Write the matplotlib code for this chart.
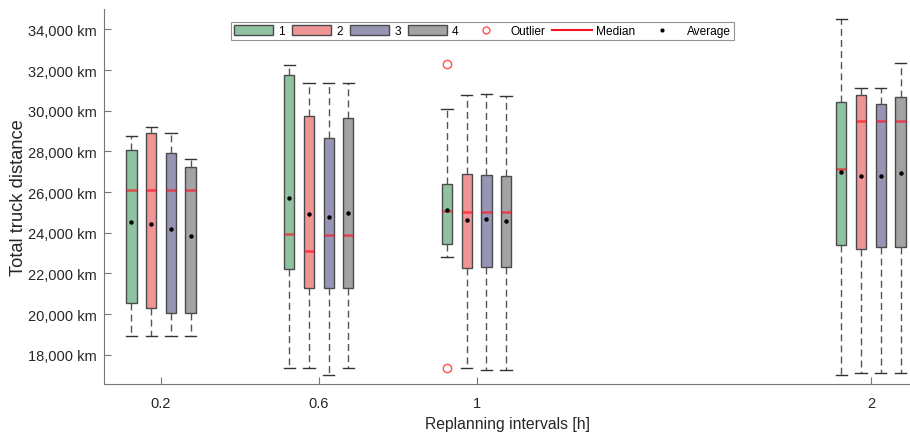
import numpy as np
import matplotlib
matplotlib.use('Agg')
import matplotlib.pyplot as plt
from matplotlib.patches import Patch
from matplotlib.lines import Line2D
from matplotlib.ticker import FuncFormatter

plt.rcParams['font.family'] = ['Liberation Sans', 'DejaVu Sans']

#-------------------------------------------------------------------------
# replanning intervals [h] and series (1..4) per interval
intervals = [0.2, 0.6, 1, 2]
series = ['1', '2', '3', '4']

# rows: interval, cols: series
whis_hi = [[28760, 29220, 28910, 27620],
           [32270, 31380, 31380, 31380],
           [30060, 30760, 30820, 30730],
           [34490, 31100, 31100, 32330]]
q3 = [[28090, 28880, 27910, 27220],
      [31740, 29730, 28660, 29630],
      [26390, 26910, 26830, 26770],
      [30420, 30750, 30350, 30660]]
median = [[26110, 26110, 26110, 26110],
          [23940, 23090, 23890, 23890],
          [25050, 25030, 25030, 25030],
          [27110, 29500, 29500, 29500]]
average = [[24540, 24440, 24200, 23820],
           [25700, 24900, 24780, 24970],
           [25130, 24620, 24690, 24560],
           [26960, 26780, 26770, 26930]]
q1 = [[20530, 20300, 20040, 20040],
      [22220, 21270, 21270, 21270],
      [23440, 22270, 22310, 22310],
      [23390, 23210, 23280, 23280]]
whis_lo = [[18940, 18940, 18940, 18940],
           [17340, 17340, 16980, 17340],
           [22820, 17350, 17260, 17260],
           [16980, 17080, 17080, 17080]]
outliers = [[[], [], [], []],
            [[], [], [], []],
            [[32280, 17350], [], [], []],
            [[], [], [], []]]

colors = ['#8fc2a0', '#ef9595', '#9696b4', '#a3a3a3']

#-------------------------------------------------------------------------
offsets = [-0.075, -0.025, 0.025, 0.075]
bwidth = 0.026

fig = plt.figure(figsize=(9.1, 4.35), dpi=100)
ax = fig.add_axes([0.1143, 0.115, 0.8857, 0.862])

for i, xg in enumerate(intervals):
  for j in range(len(series)):
    st = [dict(med=median[i][j], q1=q1[i][j], q3=q3[i][j],
               whislo=whis_lo[i][j], whishi=whis_hi[i][j],
               mean=average[i][j], fliers=outliers[i][j])]
    ax.bxp(st, positions=[xg + offsets[j]], widths=bwidth,
           patch_artist=True, showmeans=True, manage_ticks=False,
           boxprops=dict(facecolor=colors[j], edgecolor='#4a4a4a', linewidth=1.0),
           medianprops=dict(color='#ff1020', linewidth=1.8, alpha=0.65),
           whiskerprops=dict(color='#555555', linestyle=(0, (5, 3)), linewidth=1.0),
           capprops=dict(color='#333333', linewidth=1.0),
           capwidths=bwidth * 1.1,
           meanprops=dict(marker='o', markersize=2.2, markerfacecolor='black',
                          markeredgecolor='black'),
           flierprops=dict(marker='o', markersize=6, markerfacecolor='none',
                           markeredgecolor='#ff5050', markeredgewidth=1.0))

ax.set_xlim(0.0555, 2.099)
ax.set_ylim(16560, 35000)
ax.set_xticks(intervals)
ax.set_xticklabels(['0.2', '0.6', '1', '2'])
ax.set_yticks(np.arange(18000, 34001, 2000))
ax.yaxis.set_major_formatter(FuncFormatter(lambda v, p: '{:,.0f} km'.format(v)))

for s in ['top', 'right']:
  ax.spines[s].set_visible(False)
for s in ['left', 'bottom']:
  ax.spines[s].set_color('#777777')
ax.tick_params(direction='in', length=5, color='#777777', labelsize=10.5,
               labelcolor='#262626')
ax.tick_params(axis='x', pad=9)
ax.tick_params(axis='y', pad=5)

ax.set_xlabel('Replanning intervals [h]', fontsize=11.3, color='#262626', labelpad=4)
ax.set_ylabel('Total truck distance', fontsize=13.2, color='#262626', labelpad=1)

handles = [Patch(facecolor=c, edgecolor='#4a4a4a', linewidth=1.0) for c in colors]
handles += [Line2D([], [], marker='o', linestyle='none', markersize=5,
                   markerfacecolor='none', markeredgecolor='#ff5050'),
            Line2D([], [], color='#ff1020', linewidth=1.5),
            Line2D([], [], marker='o', linestyle='none', markersize=2,
                   color='black')]
labels = series + ['Outlier', 'Median', 'Average']
leg = ax.legend(handles, labels, ncol=7, loc='upper center',
                bbox_to_anchor=(0.4696, 0.965), fontsize=8.6, frameon=True,
                fancybox=False, edgecolor='#777777', handlelength=3.3,
                handleheight=0.9, handletextpad=0.4, columnspacing=0.6,
                borderpad=0.25, borderaxespad=0.0)
leg.get_frame().set_linewidth(0.8)

plt.savefig('out.png', dpi=100)
